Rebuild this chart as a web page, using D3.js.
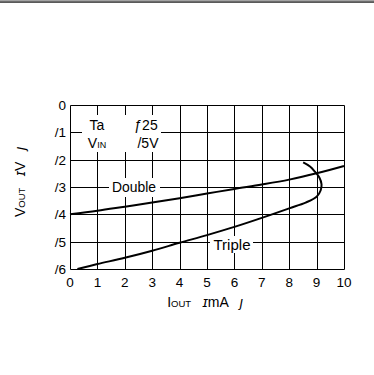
<!DOCTYPE html>
<html>
<head>
<meta charset="utf-8">
<script src="https://cdn.jsdelivr.net/npm/d3@7"></script>
<style>
  body { margin: 0; background: #fff; }
  text { font-family: "Liberation Sans", Arial, sans-serif; fill: #000; }
</style>
</head>
<body>
<div id="chart"></div>
<script>
var width = 374;
var height = 375;

var xTicks = [0, 1, 2, 3, 4, 5, 6, 7, 8, 9, 10];
var yTicks = [0, -1, -2, -3, -4, -5, -6];
var yTickLabels = ["0", "/1", "/2", "/3", "/4", "/5", "/6"];

var doubleI = [0, 1, 2, 3, 4, 5, 6, 7, 8, 9, 10];
var doubleV = [-4, -3.87, -3.72, -3.57, -3.41, -3.24, -3.07, -2.91, -2.73, -2.5, -2.23];

var tripleI = [0.27, 1, 2, 3, 4, 5, 6, 7, 8, 8.6, 9, 9.15, 9.18, 9.1, 8.94, 8.76, 8.51];
var tripleV = [-6, -5.82, -5.59, -5.33, -5.04, -4.76, -4.46, -4.13, -3.78, -3.57, -3.36, -3.12, -2.9, -2.65, -2.44, -2.25, -2.1];

var svg = d3.select("#chart")
  .append("svg")
  .attr("width", width)
  .attr("height", height);

// rule at the top of the page
svg.append("rect")
  .attr("x", 0).attr("y", 0.5)
  .attr("width", 374).attr("height", 2.5)
  .attr("fill", "#5a5a5a");
svg.append("rect")
  .attr("x", 0).attr("y", 0.5)
  .attr("width", 374).attr("height", 0.8)
  .attr("fill", "#999");

var x = d3.scaleLinear().domain([0, 10]).range([70, 344]);
var y = d3.scaleLinear().domain([0, -6]).range([105, 269]);

// crisp 1px grid
var px = function(v) { return Math.round(v) + 0.5; };

svg.append("g")
  .selectAll("line")
  .data(xTicks)
  .enter()
  .append("line")
    .attr("x1", function(d) { return px(x(d)); })
    .attr("x2", function(d) { return px(x(d)); })
    .attr("y1", px(y(0)))
    .attr("y2", px(y(-6)))
    .attr("stroke", "#000")
    .attr("stroke-width", 1);

svg.append("g")
  .selectAll("line")
  .data(yTicks)
  .enter()
  .append("line")
    .attr("x1", px(x(0)))
    .attr("x2", px(x(10)))
    .attr("y1", function(d) { return px(y(d)); })
    .attr("y2", function(d) { return px(y(d)); })
    .attr("stroke", "#000")
    .attr("stroke-width", 1);

// white boxes behind the labels in the plot
svg.append("rect")
  .attr("x", 82).attr("y", 115)
  .attr("width", 79).attr("height", 37)
  .attr("fill", "#fff");
svg.append("rect")
  .attr("x", 109).attr("y", 178)
  .attr("width", 51).attr("height", 19)
  .attr("fill", "#fff");
svg.append("rect")
  .attr("x", 210).attr("y", 236)
  .attr("width", 43).attr("height", 17)
  .attr("fill", "#fff");

// curves
var line = d3.line()
  .x(function(d) { return x(d[0]); })
  .y(function(d) { return y(d[1]); })
  .curve(d3.curveCatmullRom);

svg.append("path")
  .attr("d", line(d3.zip(doubleI, doubleV)))
  .attr("fill", "none")
  .attr("stroke", "#000")
  .attr("stroke-width", 2);

svg.append("path")
  .attr("d", line(d3.zip(tripleI, tripleV)))
  .attr("fill", "none")
  .attr("stroke", "#000")
  .attr("stroke-width", 2);

// tick labels
svg.selectAll("text.xt")
  .data(xTicks)
  .enter()
  .append("text")
  .text(function(d) { return d; })
    .attr("x", function(d) { return x(d); })
    .attr("y", 287)
    .attr("text-anchor", "middle")
    .attr("font-size", "13.5px");

svg.selectAll("text.yt")
  .data(yTicks)
  .enter()
  .append("text")
  .text(function(d, i) { return yTickLabels[i]; })
    .attr("x", 66)
    .attr("y", function(d) { return y(d) + 5; })
    .attr("text-anchor", "end")
    .attr("font-size", "13.5px");

// labels inside the plot
svg.append("text").text("Ta").attr("x", 97).attr("y", 130).attr("text-anchor", "middle").attr("font-size", "14px");
var vin = svg.append("text").attr("x", 97).attr("y", 148).attr("text-anchor", "middle").attr("font-size", "14px");
vin.append("tspan").text("V");
vin.append("tspan").text("IN").attr("font-size", "9px");
svg.append("text").text("ƒ25").attr("x", 146).attr("y", 130).attr("text-anchor", "middle").attr("font-size", "14px");
svg.append("text").text("/5V").attr("x", 148).attr("y", 148).attr("text-anchor", "middle").attr("font-size", "14px");
svg.append("text").text("Double").attr("x", 134).attr("y", 192).attr("text-anchor", "middle").attr("font-size", "14px")
  .attr("textLength", 44).attr("lengthAdjust", "spacingAndGlyphs");
svg.append("text").text("Triple").attr("x", 232).attr("y", 250).attr("text-anchor", "middle").attr("font-size", "14px")
  .attr("textLength", 37).attr("lengthAdjust", "spacingAndGlyphs");

// axis titles
var xt = svg.append("text").attr("x", 205).attr("y", 307).attr("text-anchor", "middle").attr("font-size", "14px")
  .style("white-space", "pre");
xt.append("tspan").text("I");
xt.append("tspan").text("OUT").attr("font-size", "9.5px");
xt.append("tspan").text("   ");
xt.append("tspan").text("ɪ").attr("font-style", "italic");
xt.append("tspan").text("mA   ");
xt.append("tspan").text("ȷ").attr("font-style", "italic");

var yt = svg.append("text")
  .attr("transform", "translate(25,182) rotate(-90)")
  .attr("text-anchor", "middle")
  .attr("font-size", "14px")
  .style("white-space", "pre");
yt.append("tspan").text("V");
yt.append("tspan").text("OUT").attr("font-size", "9.5px");
yt.append("tspan").text("   ");
yt.append("tspan").text("ɪ").attr("font-style", "italic");
yt.append("tspan").text("V   ");
yt.append("tspan").text("ȷ").attr("font-style", "italic");
</script>
</body>
</html>
